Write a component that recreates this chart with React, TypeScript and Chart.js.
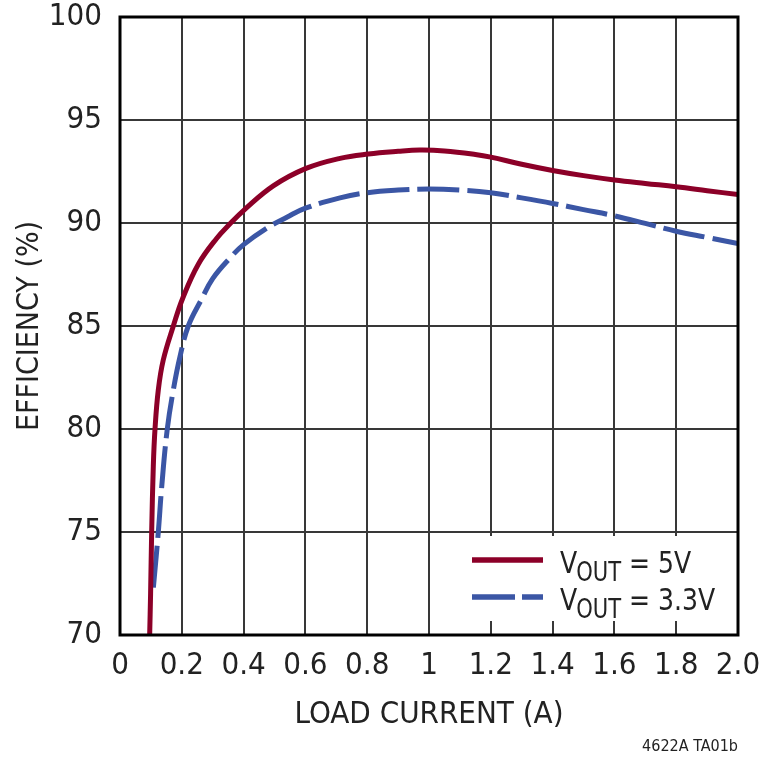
import React, { useEffect, useRef } from "react";
import { Chart, registerables } from "chart.js";

Chart.register(...registerables);

const FONT = "'Liberation Sans Narrow', 'DejaVu Sans Condensed', 'Arial Narrow', 'Roboto', sans-serif";

// Series: VOUT = 5V
const loadCurrent5V = [0.096, 0.099, 0.1025, 0.1078, 0.1133, 0.124, 0.14, 0.1726, 0.203, 0.2535, 0.3126, 0.356, 0.4023, 0.496, 0.602, 0.712, 0.8036, 0.9, 0.97, 1.05, 1.15, 1.2, 1.3, 1.4, 1.5, 1.6, 1.7, 1.8, 1.9, 2.0];
const efficiency5V = [70, 72, 75, 78.2, 80, 81.9, 83.35, 85.0, 86.35, 88.0, 89.25, 89.96, 90.64, 91.8, 92.65, 93.14, 93.35, 93.48, 93.54, 93.5, 93.33, 93.2, 92.85, 92.55, 92.3, 92.09, 91.92, 91.76, 91.57, 91.38];

// Series: VOUT = 3.3V
const loadCurrent33V = [0.108, 0.124, 0.135, 0.153, 0.1726, 0.194, 0.221, 0.264, 0.3, 0.356, 0.4, 0.475, 0.54, 0.6, 0.712, 0.8, 0.9, 1.0, 1.1, 1.2, 1.3, 1.4, 1.5, 1.6, 1.7, 1.8, 1.9, 2.0];
const efficiency33V = [72.3, 75.0, 77.2, 80.0, 81.9, 83.5, 85.0, 86.3, 87.3, 88.3, 88.95, 89.75, 90.28, 90.72, 91.22, 91.47, 91.6, 91.65, 91.6, 91.47, 91.22, 90.95, 90.65, 90.35, 89.98, 89.6, 89.3, 89.0];

// Axis labels / ticks
const xTickLabels = ["0", "0.2", "0.4", "0.6", "0.8", "1", "1.2", "1.4", "1.6", "1.8", "2.0"];
const xTitle = "LOAD CURRENT (A)";
const yTitle = "EFFICIENCY (%)";
const footnote = "4622A TA01b";

// Legend entries: main letter, subscript, remainder
const legendMain = ["V", "V"];
const legendSub = ["OUT", "OUT"];
const legendRest = [" = 5V", " = 3.3V"];

const RED = "#8c0028";
const BLUE = "#3b56a5";
const DASH = [42, 8];

const decorPlugin = {
  id: "decor",
  beforeDatasetsDraw(chart: any) {
    const ctx = chart.ctx;
    ctx.save();
    ctx.fillStyle = "#ffffff";
    ctx.fillRect(436, 536, 299, 85);
    ctx.restore();
  },
  afterDatasetsDraw(chart: any) {
    const ctx = chart.ctx;
    const a = chart.chartArea;
    ctx.save();
    // frame
    ctx.strokeStyle = "#000";
    ctx.lineWidth = 3;
    ctx.strokeRect(a.left, a.top, a.right - a.left, a.bottom - a.top);

    // legend
    const colors = [RED, BLUE];
    const dashes = [[], [43, 7]];
    const lineYs = [560, 597];
    const baseYs = [573, 610];
    const sx = 0.9;
    for (let i = 0; i < 2; i++) {
      ctx.beginPath();
      ctx.setLineDash(dashes[i]);
      ctx.strokeStyle = colors[i];
      ctx.lineWidth = 5.5;
      ctx.lineCap = "butt";
      ctx.moveTo(472, lineYs[i]);
      ctx.lineTo(543, lineYs[i]);
      ctx.stroke();
      ctx.setLineDash([]);

      ctx.save();
      ctx.translate(560, 0);
      ctx.scale(sx, 1);
      ctx.fillStyle = "#222";
      ctx.textAlign = "left";
      ctx.textBaseline = "alphabetic";
      let x = 0;
      ctx.font = `31px ${FONT}`;
      ctx.fillText(legendMain[i], x, baseYs[i]);
      x += ctx.measureText(legendMain[i]).width - 1;
      ctx.font = `26px ${FONT}`;
      ctx.fillText(legendSub[i], x, baseYs[i] + 8);
      x += ctx.measureText(legendSub[i]).width;
      ctx.font = `31px ${FONT}`;
      ctx.fillText(legendRest[i], x, baseYs[i]);
      ctx.restore();
    }

    // footnote
    ctx.font = `16px ${FONT}`;
    ctx.textAlign = "right";
    ctx.textBaseline = "alphabetic";
    ctx.fillStyle = "#222";
    ctx.fillText(footnote, 738, 751);
    ctx.restore();
  },
};

export default function App() {
  const ref = useRef<HTMLCanvasElement | null>(null);

  useEffect(() => {
    document.body.style.margin = "0";
    const canvas = ref.current;
    if (!canvas) return;
    const chart = new Chart(canvas, {
      type: "line",
      data: {
        datasets: [
          {
            label: "VOUT = 5V",
            data: loadCurrent5V.map((x, i) => ({ x, y: efficiency5V[i] })),
            borderColor: RED,
            borderWidth: 5,
            pointRadius: 0,
            fill: false,
            tension: 0.4,
            borderCapStyle: "butt",
          },
          {
            label: "VOUT = 3.3V",
            data: loadCurrent33V.map((x, i) => ({ x, y: efficiency33V[i] })),
            borderColor: BLUE,
            borderWidth: 5,
            borderDash: DASH,
            pointRadius: 0,
            fill: false,
            tension: 0.4,
            borderCapStyle: "butt",
          },
        ],
      },
      options: {
        animation: false,
        responsive: false,
        maintainAspectRatio: false,
        devicePixelRatio: 1,
        layout: { padding: { top: 17, right: 22, left: 0, bottom: 0 } },
        plugins: { legend: { display: false }, tooltip: { enabled: false } },
        scales: {
          x: {
            type: "linear",
            min: 0,
            max: 2,
            ticks: {
              stepSize: 0.2,
              autoSkip: false,
              maxRotation: 0,
              padding: 12,
              color: "#222",
              font: { family: FONT, size: 31 },
              callback: (_v: any, i: number) => xTickLabels[i],
            },
            grid: { color: "#383838", lineWidth: 2, drawTicks: false },
            border: { display: false },
            title: {
              display: true,
              text: xTitle,
              color: "#222",
              font: { family: FONT, size: 31, lineHeight: 1.2 },
              padding: { top: 0, bottom: 23 },
            },
            afterFit: (s: any) => {
              s.height = 122;
              s.paddingLeft = 0;
              s.paddingRight = 0;
            },
          },
          y: {
            type: "linear",
            min: 70,
            max: 100,
            ticks: {
              stepSize: 5,
              padding: 18,
              color: "#222",
              font: { family: FONT, size: 31 },
            },
            grid: { color: "#383838", lineWidth: 2, drawTicks: false },
            border: { display: false },
            title: {
              display: true,
              text: yTitle,
              color: "#222",
              font: { family: FONT, size: 30, lineHeight: 1.2 },
              padding: { top: 12, bottom: 0 },
            },
            afterFit: (s: any) => {
              s.width = 120;
              s.paddingTop = 0;
              s.paddingBottom = 0;
            },
          },
        },
      },
      plugins: [decorPlugin],
    } as any);
    return () => chart.destroy();
  }, []);

  return (
    <canvas
      ref={ref}
      width={760}
      height={757}
      style={{ display: "block", width: 760, height: 757 }}
    />
  );
}
